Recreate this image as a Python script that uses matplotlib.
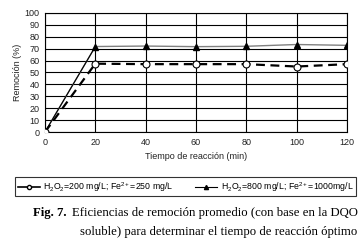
import matplotlib
matplotlib.use("Agg")
import matplotlib.pyplot as plt
from matplotlib.lines import Line2D

tiempo = [0, 20, 40, 60, 80, 100, 120]
rem_200 = [0, 57.4, 57, 57, 57, 55, 57]
rem_800 = [0, 71.8, 72.2, 71.7, 72, 73.5, 72.8]
label_200 = "H$_2$O$_2$=200 mg/L; Fe$^{2+}$=250 mg/L"
label_800 = "H$_2$O$_2$=800 mg/L; Fe$^{2+}$=1000mg/L"

plt.rcParams['font.family'] = ['Liberation Sans', 'DejaVu Sans']
plt.rcParams['mathtext.fontset'] = 'custom'
plt.rcParams['mathtext.rm'] = 'Liberation Sans'

fig = plt.figure(figsize=(3.63, 2.4), dpi=100)
ax = fig.add_axes([0.124, 0.45, 0.832, 0.496])

ax.plot(tiempo, rem_800, color='#808080', lw=1.0, marker='^', ms=5,
        mfc='black', mec='black', zorder=3)
ax.plot(tiempo[:2], rem_800[:2], color='black', lw=0.8, zorder=3)
ax.plot(tiempo, rem_200, color='black', lw=1.6, ls=(0, (4, 2.5)), marker='o', ms=5,
        mfc='white', mec='black', mew=0.8, zorder=4)

ax.set_xlim(0, 120)
ax.set_ylim(0, 100)
ax.set_xticks(tiempo)
ax.set_yticks(range(0, 101, 10))
ax.grid(True, color='black', lw=0.8)
ax.set_axisbelow(True)
for s in ax.spines.values():
    s.set_linewidth(0.8)
ax.tick_params(labelsize=6.5, length=0, pad=4, colors='#222222')
ax.set_xlabel("Tiempo de reacción (min)", fontsize=6.5, labelpad=4, color='#222222')
ax.set_ylabel("Remoción (%)", fontsize=6.5, labelpad=2, color='#222222')

handles = [
    Line2D([], [], color='black', lw=1.2, marker='o', ms=3, mfc='white', mec='black'),
    Line2D([], [], color='black', lw=0.8, marker='^', ms=3, mfc='black', mec='black'),
]
leg = fig.legend(handles, [label_200, label_800], loc='center',
                 bbox_to_anchor=(0.5115, 0.221), bbox_transform=fig.transFigure,
                 ncol=2, fontsize=6.3, frameon=True, fancybox=False,
                 handlelength=2.5, handletextpad=0.4, columnspacing=2.5,
                 borderpad=0.3, borderaxespad=0, edgecolor='black')
leg.get_frame().set_linewidth(0.8)

serif = ['Liberation Serif']
fig.text(0.09, 0.113, "Fig. 7.", family=serif, fontweight='bold',
         fontsize=9.2, va='center')
fig.text(0.198, 0.113, "Eficiencias de remoción promedio (con base en la DQO",
         family=serif, fontsize=9.2, va='center')
fig.text(0.22, 0.033, "soluble) para determinar el tiempo de reacción óptimo",
         family=serif, fontsize=9.2, va='center')

fig.savefig("out.png", dpi=100, facecolor='white')
